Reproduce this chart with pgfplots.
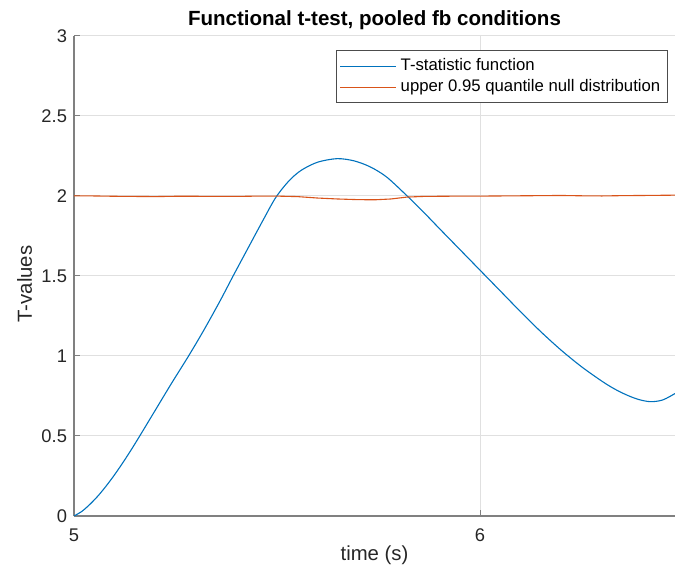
\documentclass[border=0pt]{standalone}
\usepackage{pgfplots}
\pgfplotsset{compat=1.18}
\usepackage{fontspec}
\setmainfont{Liberation Sans}
\definecolor{mblue}{rgb}{0,0.447,0.741}
\definecolor{morange}{rgb}{0.851,0.325,0.098}
\begin{document}
\begin{tikzpicture}
\begin{axis}[
  scale only axis,
  width=300.5bp, height=240.15bp,
  xmin=5, xmax=6.48, ymin=0, ymax=3,
  xtick={5,6},
  ytick={0,0.5,1,1.5,2,2.5,3},
  yticklabels={0,0.5,1,1.5,2,2.5,3},
  xticklabels={5,6},
  axis x line*=bottom, axis y line*=left,
  axis line style={black!50, line width=0.6bp, -},
  tick style={black!50, line width=0.5bp},
  tick align=inside, major tick length=3bp,
  grid=major,
  major grid style={black!12, line width=0.5bp},
  /pgf/number format/assume math mode=true,
  tick label style={font=\fontsize{9.2}{11}\selectfont, text=black!85},
  xticklabel style={yshift=-3bp},
  every axis title shift=0pt,
  title={\textbf{Functional t-test, pooled fb conditions}},
  title style={font=\fontsize{10.3}{12}\selectfont, at={(axis description cs:0.5,1)}, anchor=base, yshift=5bp},
  xlabel={time (s)},
  ylabel={T-values},
  every axis x label/.style={at={(axis description cs:0.5,0)}, anchor=center, yshift=-19.5bp, font=\fontsize{10.2}{12}\selectfont, text=black!85},
  every axis y label/.style={at={(axis description cs:0,0.483)}, anchor=center, rotate=90, yshift=24.75bp, font=\fontsize{10.2}{12}\selectfont, text=black!85},
  legend style={at={(axis description cs:0.988,0.970)}, anchor=north east, draw=black!70, line width=0.5bp, fill=white, font=\fontsize{8.4}{10}\selectfont, inner xsep=1.5bp, inner ysep=2bp, row sep=-1bp},
  legend cell align=left,
  legend image code/.code={\draw[#1] (0bp,0bp) -- (28bp,0bp);},
]
\addplot[color=mblue, line width=0.55bp, smooth, tension=0.5] coordinates {
(5.000,0.000) (5.020,0.030) (5.040,0.075) (5.060,0.128) (5.080,0.190)
(5.100,0.258) (5.120,0.332) (5.140,0.410) (5.160,0.492) (5.200,0.660)
(5.240,0.828) (5.283,1.003) (5.320,1.162) (5.360,1.345) (5.392,1.500)
(5.430,1.680) (5.465,1.845) (5.497,1.990) (5.530,2.095) (5.560,2.160)
(5.600,2.210) (5.648,2.232) (5.690,2.218) (5.730,2.180) (5.770,2.117)
(5.820,2.000) (5.860,1.900) (5.900,1.795) (5.950,1.665) (6.000,1.535)
(6.050,1.405) (6.100,1.275) (6.150,1.150) (6.200,1.035) (6.250,0.932)
(6.300,0.842) (6.330,0.795) (6.360,0.757) (6.390,0.728) (6.420,0.714)
(6.450,0.725) (6.480,0.765)
};
\addlegendentry{T-statistic function}
\addplot[color=morange, line width=0.55bp] coordinates {
(5.00,2.000) (5.05,1.999) (5.10,1.997) (5.15,1.996) (5.20,1.995)
(5.25,1.997) (5.30,1.997) (5.35,1.996) (5.40,1.996) (5.45,1.998)
(5.50,1.998) (5.55,1.995) (5.60,1.986) (5.65,1.980) (5.70,1.976)
(5.74,1.975) (5.78,1.980) (5.82,1.992) (5.86,1.996) (5.90,1.997)
(5.95,1.998) (6.00,1.998) (6.05,1.999) (6.10,2.000) (6.15,2.001)
(6.20,2.002) (6.25,2.000) (6.30,1.999) (6.35,2.001) (6.40,2.002)
(6.44,2.003) (6.48,2.004)
};
\addlegendentry{upper 0.95 quantile null distribution}
\end{axis}
\pgfresetboundingbox
\path[use as bounding box] (-37bp,-29.5bp) rectangle (300.5bp,258bp);
\end{tikzpicture}
\end{document}
